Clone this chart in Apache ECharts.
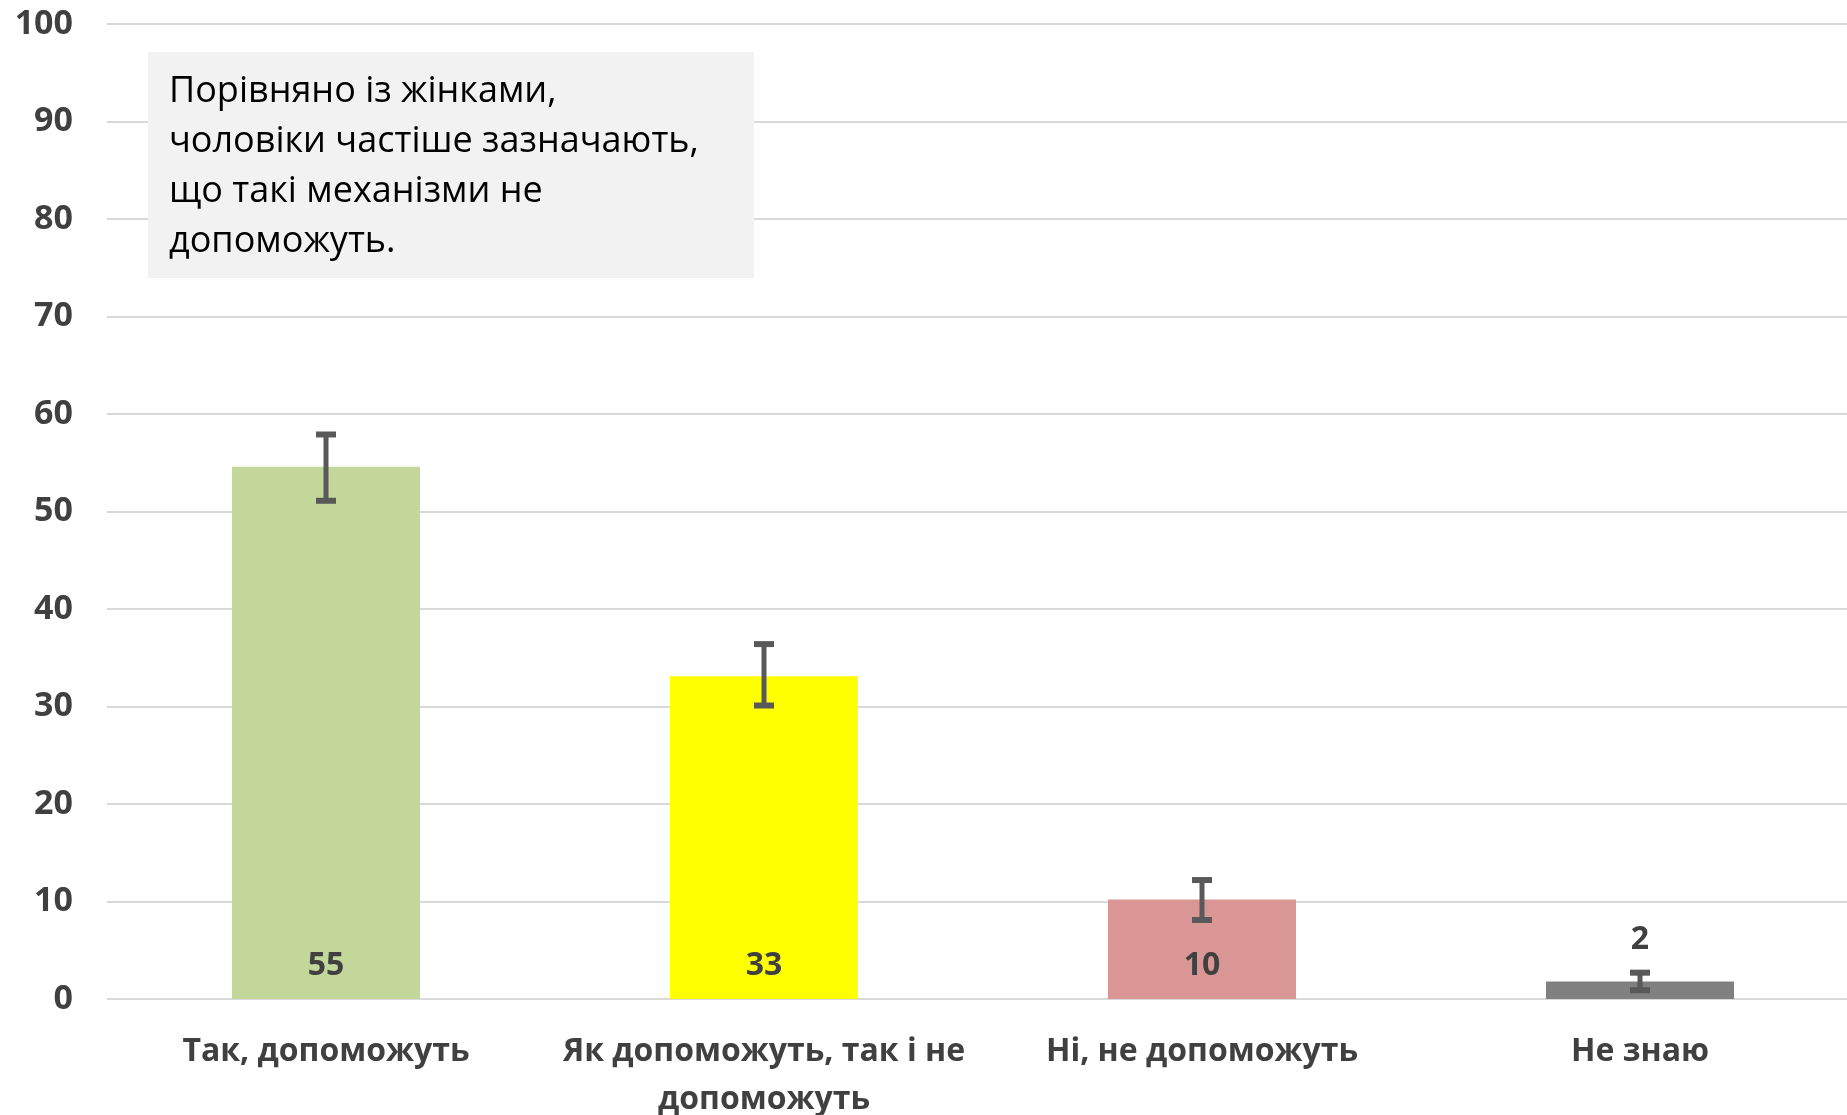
<!DOCTYPE html>
<html>
<head>
<meta charset="utf-8">
<script src="https://cdn.jsdelivr.net/npm/echarts@6/dist/echarts.min.js"></script>
<style>
html,body{margin:0;padding:0;background:#fff;}
#chart{width:1847px;height:1115px;}
</style>
</head>
<body>
<div id="chart"></div>
<script>
const categories = ['Так, допоможуть', 'Як допоможуть, так і не\nдопоможуть', 'Ні, не допоможуть', 'Не знаю'];
const values = [54.6, 33.1, 10.2, 1.8];
const valueLabels = ['55', '33', '10', '2'];
const errLow = [51.1, 30.1, 8.1, 0.9];
const errHigh = [57.9, 36.4, 12.2, 2.7];
const barColors = ['#c4d79b', '#ffff00', '#da9694', '#808080'];
const yTicks = [0, 10, 20, 30, 40, 50, 60, 70, 80, 90, 100];
const noteLines = ['Порівняно із жінками,', 'чоловіки частіше зазначають,', 'що такі механізми не', 'допоможуть.'];

const chart = echarts.init(document.getElementById('chart'));

const barData = values.map((v, i) => {
  const d = { value: v, itemStyle: { color: barColors[i] } };
  if (i === 3) {
    d.label = { position: 'top', distance: 26 };
  }
  return d;
});

const errData = values.map((v, i) => [i, errLow[i], errHigh[i]]);

const option = {
  animation: false,
  backgroundColor: '#ffffff',
  grid: { left: 107, top: 24, width: 1752, height: 975, outerBoundsMode: 'none', containLabel: false },
  xAxis: {
    type: 'category',
    data: categories,
    axisLine: { show: false },
    axisTick: { show: false },
    axisLabel: {
      interval: 0,
      color: '#404040',
      fontFamily: 'Open Sans',
      fontWeight: 'bold',
      fontSize: 32,
      lineHeight: 48,
      margin: 29
    }
  },
  yAxis: {
    type: 'value',
    min: yTicks[0],
    max: yTicks[yTicks.length - 1],
    interval: 10,
    axisLine: { show: false },
    axisTick: { show: false },
    splitLine: { lineStyle: { color: '#d9d9d9', width: 2 } },
    axisLabel: {
      color: '#404040',
      fontFamily: 'Open Sans',
      fontWeight: 'bold',
      fontSize: 34,
      margin: 34
    }
  },
  series: [
    {
      type: 'bar',
      data: barData,
      barWidth: 188,
      label: {
        show: true,
        position: 'insideBottom',
        distance: 17,
        color: '#404040',
        fontFamily: 'Open Sans',
        fontWeight: 'bold',
        fontSize: 32,
        formatter: p => valueLabels[p.dataIndex]
      }
    },
    {
      type: 'custom',
      data: errData,
      z: 10,
      renderItem: function (params, api) {
        const x = api.value(0);
        const lo = api.coord([x, api.value(1)]);
        const hi = api.coord([x, api.value(2)]);
        const cx = lo[0];
        const capW = 20, capH = 6;
        return {
          type: 'group',
          children: [
            { type: 'line', shape: { x1: cx, y1: hi[1], x2: cx, y2: lo[1] }, style: { stroke: '#595959', lineWidth: 5 } },
            { type: 'rect', shape: { x: cx - capW / 2, y: hi[1] - capH / 2, width: capW, height: capH }, style: { fill: '#595959' } },
            { type: 'rect', shape: { x: cx - capW / 2, y: lo[1] - capH / 2, width: capW, height: capH }, style: { fill: '#595959' } }
          ]
        };
      }
    }
  ],
  graphic: [
    {
      type: 'rect',
      left: 148, top: 52,
      shape: { width: 606, height: 226 },
      style: { fill: '#f2f2f2' },
      z: 20
    },
    {
      type: 'text',
      left: 169, top: 67,
      z: 21,
      style: {
        text: noteLines.join('\n'),
        fontFamily: 'Open Sans',
        fontSize: 36,
        lineHeight: 50,
        fill: '#000000'
      }
    }
  ]
};

chart.setOption(option);
</script>
</body>
</html>
